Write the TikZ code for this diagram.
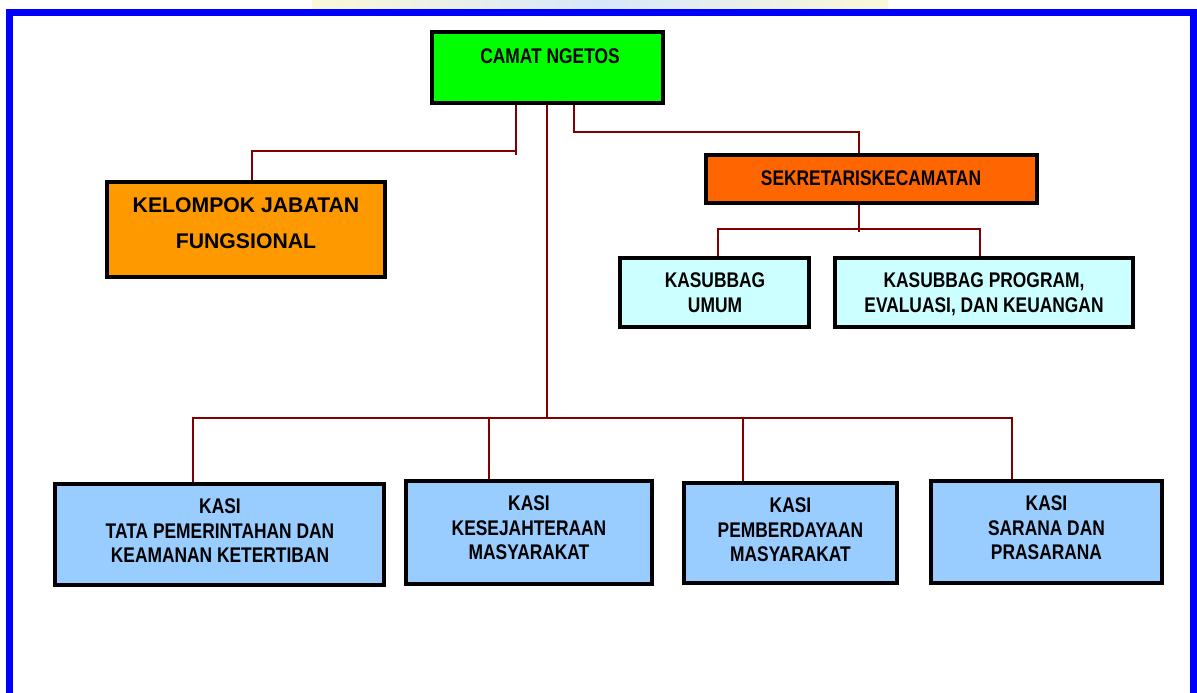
\documentclass[tikz,border=0pt]{standalone}
\usepackage{fontspec}
\setmainfont{Liberation Sans}
\newfontfamily\narrowfont{Liberation Sans}[FakeStretch=0.82]
\definecolor{conncol}{RGB}{128,0,0}
\definecolor{framecol}{RGB}{0,0,255}
\definecolor{camatcol}{RGB}{0,255,0}
\definecolor{kelcol}{RGB}{255,153,0}
\definecolor{sekcol}{RGB}{255,102,0}
\definecolor{subcol}{RGB}{204,255,255}
\definecolor{kasicol}{RGB}{153,204,255}
\definecolor{wmyel}{RGB}{250,248,215}
\definecolor{wmblue}{RGB}{215,232,250}
\begin{document}
\begin{tikzpicture}[x=1pt,y=1pt,
  box/.style={draw=black,line width=4pt,inner sep=0pt},
  lbl/.style={font=\narrowfont\bfseries\fontsize{21.2}{24.5}\selectfont,align=center,inner sep=0pt,text depth=0pt},
  widelbl/.style={font=\bfseries\fontsize{21.2}{35.5}\selectfont,align=center,inner sep=0pt,text depth=0pt},
  conn/.style={draw=conncol,line width=2pt}]
\useasboundingbox (0,0) rectangle (1197,-693);
\fill[white] (0,0) rectangle (1197,-693);
\shade[left color=wmyel,right color=wmyel,middle color=wmblue] (312,0) rectangle (888,-9);
% frame
\draw[framecol,line width=7pt,line join=miter] (9.5,-700) -- (9.5,-13) -- (1193.5,-13) -- (1193.5,-700);

% boxes
\node[box,fill=camatcol,minimum width=231pt,minimum height=71pt] (camat) at (547.5,-67.5) {};
\node[lbl] (tcamat) at (550,-56) {CAMAT NGETOS};

\node[box,fill=kelcol,minimum width=278pt,minimum height=95pt] (kel) at (246,-229.5) {};
\node[widelbl] (tkel) at (246,-223) {KELOMPOK JABATAN\\FUNGSIONAL};

\node[box,fill=sekcol,minimum width=331pt,minimum height=48pt] (sek) at (871.5,-179) {};
\node[lbl] (tsek) at (871,-178.5) {SEKRETARISKECAMATAN};

\node[box,fill=subcol,minimum width=189pt,minimum height=69pt] (umum) at (714.5,-292.5) {};
\node[lbl] (tumum) at (715,-292.75) {KASUBBAG\\UMUM};

\node[box,fill=subcol,minimum width=298pt,minimum height=69pt] (prog) at (984,-292.5) {};
\node[lbl] (tprog) at (984,-292.75) {KASUBBAG PROGRAM,\\EVALUASI, DAN KEUANGAN};

\node[box,fill=kasicol,minimum width=329pt,minimum height=101pt] (tata) at (219.5,-534.5) {};
\node[lbl] (ttata) at (220,-531) {KASI\\TATA PEMERINTAHAN DAN\\KEAMANAN KETERTIBAN};

\node[box,fill=kasicol,minimum width=246pt,minimum height=103pt] (kesej) at (529,-532.5) {};
\node[lbl] (tkesej) at (529,-528) {KASI\\KESEJAHTERAAN\\MASYARAKAT};

\node[box,fill=kasicol,minimum width=213pt,minimum height=100pt] (pember) at (790.5,-533) {};
\node[lbl] (tpember) at (790.5,-530) {KASI\\PEMBERDAYAAN\\MASYARAKAT};

\node[box,fill=kasicol,minimum width=231pt,minimum height=102pt] (sarana) at (1046.5,-532) {};
\node[lbl] (tsarana) at (1046.5,-528) {KASI\\SARANA DAN\\PRASARANA};

% junction coordinates
\coordinate (jkel) at (516,-151);
\coordinate (jsek) at (574,-132);
\coordinate (jbus) at (547,-418);
\coordinate (jsub) at (859,-229);

% connectors
\draw[conn] ([xshift=-31.5pt]camat.south) -- (jkel) -- ++(0,-4);
\draw[conn] (jkel) -| ([xshift=6pt]kel.north);
\draw[conn] ([xshift=26.5pt]camat.south) |- (jsek) -| ([xshift=-12.5pt]sek.north);
\draw[conn] ([xshift=-0.5pt]camat.south) -- (jbus);
\draw[conn] ([xshift=-26.5pt]tata.north) |- (jbus) -| ([xshift=-34.5pt]sarana.north);
\draw[conn] ([xshift=-40pt]kesej.north) -- ([xshift=-40pt]kesej.north |- jbus);
\draw[conn] ([xshift=-47.5pt]pember.north) -- ([xshift=-47.5pt]pember.north |- jbus);
\draw[conn] ([xshift=-12.5pt]sek.south) -- ([xshift=-12.5pt,yshift=-27pt]sek.south);
\draw[conn] ([xshift=3.5pt]umum.north) |- (jsub) -| ([xshift=-4pt]prog.north);
\end{tikzpicture}
\end{document}
